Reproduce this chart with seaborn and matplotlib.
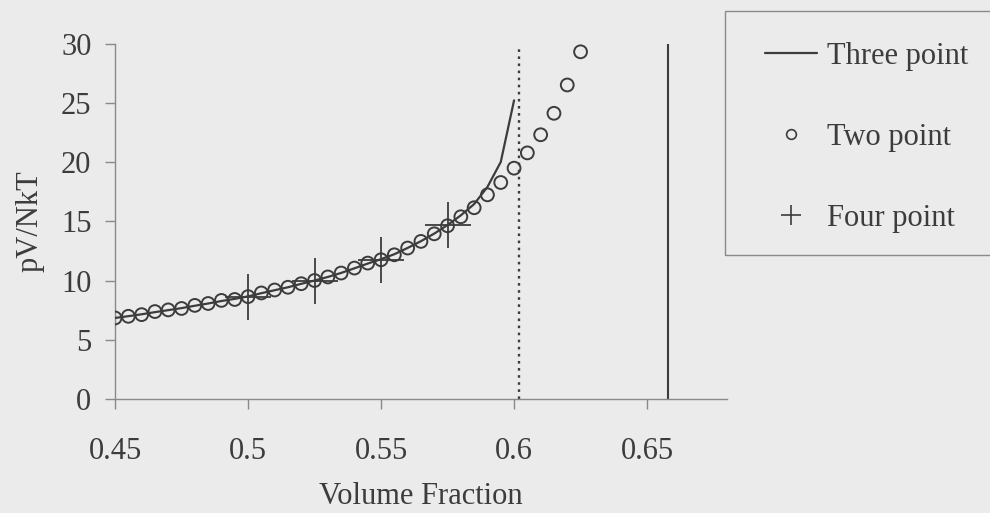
import matplotlib
matplotlib.use("Agg")
import matplotlib.pyplot as plt
from matplotlib.patches import Rectangle
from matplotlib.lines import Line2D
import seaborn as sns
import pandas as pd

# Volume fractions and reduced pressures for the three closure approximations
phi_two = [0.45, 0.455, 0.46, 0.465, 0.47, 0.475, 0.48, 0.485, 0.49, 0.495,
           0.5, 0.505, 0.51, 0.515, 0.52, 0.525, 0.53, 0.535, 0.54, 0.545,
           0.55, 0.555, 0.56, 0.565, 0.57, 0.575, 0.58, 0.585, 0.59, 0.595,
           0.6, 0.605, 0.61, 0.615, 0.62, 0.625]
p_two = [6.84, 6.98, 7.12, 7.38, 7.52, 7.64, 7.9, 8.06, 8.32, 8.4,
         8.64, 8.95, 9.2, 9.43, 9.73, 10.0, 10.3, 10.63, 11.05, 11.47,
         11.75, 12.17, 12.74, 13.3, 13.94, 14.62, 15.38, 16.14, 17.23, 18.27,
         19.48, 20.77, 22.3, 24.11, 26.5, 29.3]

phi_three = [0.45, 0.455, 0.46, 0.465, 0.47, 0.475, 0.48, 0.485, 0.49, 0.495,
             0.5, 0.505, 0.51, 0.515, 0.52, 0.525, 0.53, 0.535, 0.54, 0.545,
             0.55, 0.555, 0.56, 0.565, 0.57, 0.575, 0.58, 0.585, 0.59, 0.595,
             0.6]
p_three = [6.84, 6.99, 7.15, 7.33, 7.5, 7.67, 7.87, 8.06, 8.27, 8.45,
           8.66, 8.93, 9.18, 9.43, 9.72, 10.0, 10.3, 10.64, 11.03, 11.43,
           11.8, 12.22, 12.75, 13.32, 13.96, 14.68, 15.5, 16.45, 17.9, 20.0,
           25.2]

phi_four = [0.5, 0.525, 0.55, 0.575]
p_four = [8.6, 9.95, 11.75, 14.65]

freezing_phi = 0.602
packing_phi = 0.658
x_ticks = [0.45, 0.5, 0.55, 0.6, 0.65]
x_tick_labels = ["0.45", "0.5", "0.55", "0.6", "0.65"]
y_ticks = [0, 5, 10, 15, 20, 25, 30]

BG = "#ebebeb"
INK = "#3c3c3c"
AXC = "#8a8a8a"
FS = 22

sns.set_theme(style="white")
plt.rcParams.update({
    "font.family": ["Liberation Serif", "DejaVu Serif"],
    "font.size": FS,
    "text.color": INK,
    "axes.labelcolor": INK,
    "xtick.color": AXC,
    "ytick.color": AXC,
    "xtick.labelcolor": INK,
    "ytick.labelcolor": INK,
})

fig = plt.figure(figsize=(9.9, 5.13), dpi=100, facecolor=BG)
ax = fig.add_axes([0.1162, 0.2222, 0.618, 0.693])
ax.set_facecolor(BG)

df_three = pd.DataFrame({"phi": phi_three, "p": p_three})
df_two = pd.DataFrame({"phi": phi_two, "p": p_two})
df_four = pd.DataFrame({"phi": phi_four, "p": p_four})

sns.lineplot(data=df_three, x="phi", y="p", ax=ax, color=INK, lw=1.6,
             sort=False, zorder=3)
sns.scatterplot(data=df_two, x="phi", y="p", ax=ax, marker="o", s=85,
                facecolor="none", edgecolor=INK, linewidth=1.4, zorder=4)
sns.scatterplot(data=df_four, x="phi", y="p", ax=ax, marker="+", s=1050,
                color=INK, linewidth=1.3, zorder=5)

ax.plot([freezing_phi, freezing_phi], [0, 29.5], color=INK, lw=1.7,
        linestyle=(0, (1.1, 1.9)), zorder=2)
ax.plot([packing_phi, packing_phi], [0, 30], color=INK, lw=1.5, zorder=2)

ax.set_xlim(0.45, 0.68)
ax.set_ylim(0, 30)
ax.set_xticks(x_ticks)
ax.set_xticklabels(x_tick_labels)
ax.set_yticks(y_ticks)
ax.tick_params(axis="both", direction="out", length=7, width=1,
               labelsize=FS, bottom=True, left=True)
ax.tick_params(axis="x", pad=20)
ax.tick_params(axis="y", pad=10)
for side in ("top", "right"):
    ax.spines[side].set_visible(False)
for side in ("left", "bottom"):
    ax.spines[side].set_color(AXC)
    ax.spines[side].set_linewidth(1)

ax.set_xlabel("Volume Fraction", fontsize=FS, labelpad=12)
ax.set_ylabel("pV/NkT", fontsize=FS, labelpad=12)

# Legend panel
fig.patches.append(Rectangle((725 / 990, 1 - 255 / 513), 300 / 990,
                             (255 - 10.7) / 513, transform=fig.transFigure,
                             facecolor="none", edgecolor=AXC, lw=1,
                             zorder=1))
handles = [
    Line2D([], [], color=INK, lw=1.6),
    Line2D([], [], color=INK, marker="o", ls="none", markersize=7,
           markerfacecolor="none", markeredgewidth=1.2),
    Line2D([], [], color=INK, marker="+", ls="none", markersize=15,
           markeredgewidth=1.2),
]
labels = ["Three point", "Two point", "Four point"]
fig.legend(handles, labels, loc="upper left",
           bbox_to_anchor=(765 / 990, 1 - 42 / 513), frameon=False,
           fontsize=FS, handlelength=1.7, handletextpad=0.33,
           labelspacing=1.7, borderpad=0, borderaxespad=0)

fig.savefig("out.png", dpi=100, facecolor=BG)
